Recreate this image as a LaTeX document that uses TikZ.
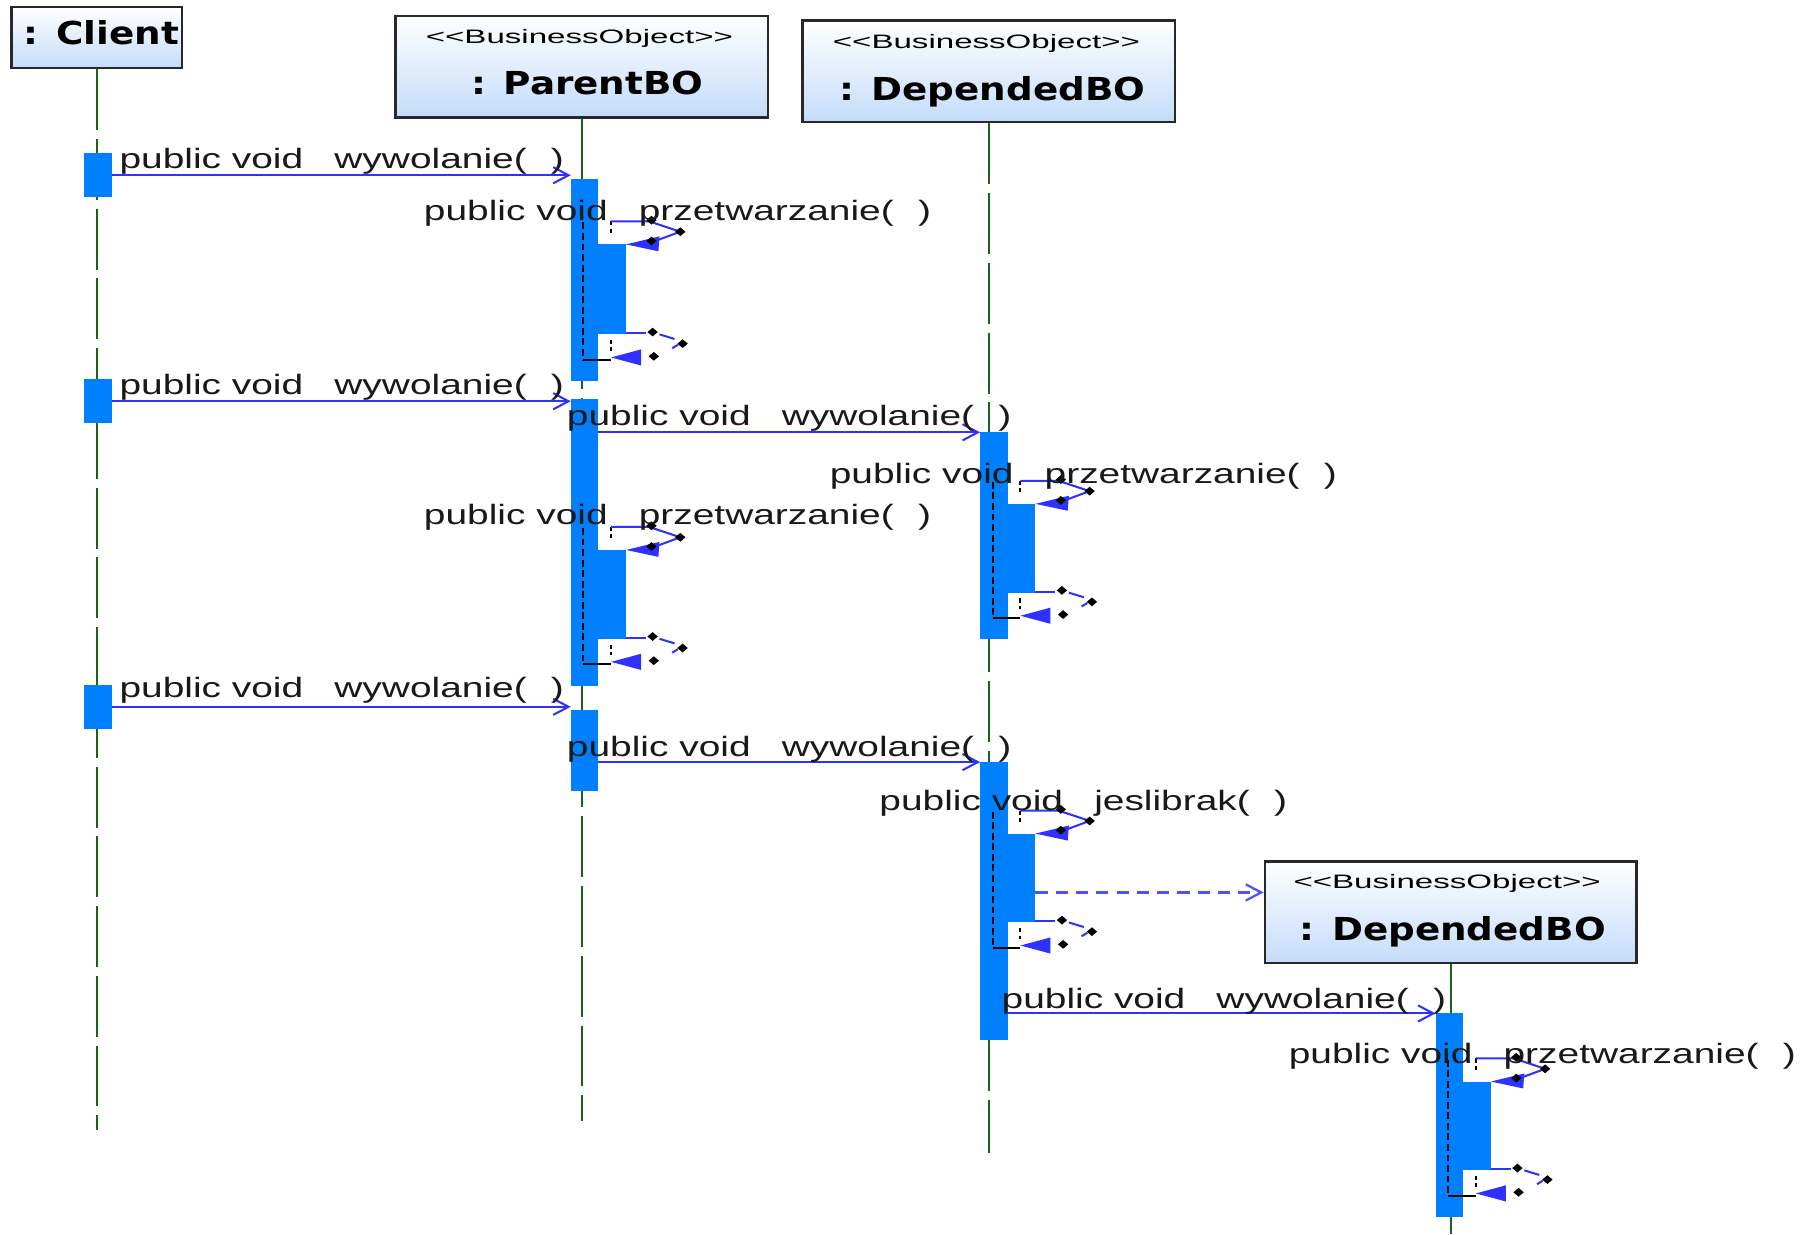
\documentclass[tikz,border=0pt]{standalone}
\usepackage{fontspec}
\usetikzlibrary{arrows.meta,calc}

\newfontfamily\msgfont{Liberation Sans}[FakeStretch=1.39]
\newfontfamily\stfont{Liberation Sans}[FakeStretch=1.7]
\newfontfamily\objfont{DejaVu Sans}[FakeStretch=1.18]

\definecolor{actblue}{RGB}{0,128,255}
\definecolor{msgblue}{RGB}{48,48,255}
\definecolor{hdrblue}{RGB}{196,220,250}
\definecolor{lifegreen}{RGB}{25,100,25}
\definecolor{framegray}{RGB}{40,40,40}

% operation call text: "public void  name( )"
\newcommand\pv[1]{public void\hspace{0.27cm}#1(\hspace{0.21cm})}
% small black marker of a self-call loop
\newcommand\mk[2]{\fill[black] ({#1-4.5},{#2}) -- ({#1},{#2-3.8}) -- ({#1+4.5},{#2}) -- ({#1},{#2+3.8}) -- cycle;}
% self-call loop around a nested activation bar (#1 = name of the nested bar)
\newcommand\selfcall[1]{%
  \begin{scope}[shift={(#1.north west)}]
    \draw[retline, dash pattern=on 1pt off 0.8pt] (11,-20) -- (11,-10);
    \draw[loopline] (11,-20) -- (44,-20) -- (71,-11) -- (52,-4);
    \fill[msgblue] (24,0) -- (53,-7) -- (52,6) -- cycle;
    \mk{46}{-21} \mk{71}{-11} \mk{46}{-3}
  \end{scope}
  \begin{scope}[shift={(#1.south west)}]
    \draw[retline] (-13,22) -- (11,22);
    \draw[retline, dash pattern=on 1pt off 0.8pt] (11,5) -- (11,14);
    \draw[loopline] (24,-1) -- (41,-1);
    \draw[loopline] (53,0) -- (66,4);
    \draw[loopline] (64,12) -- (69,9);
    \fill[msgblue] (11,20) -- (37,13) -- (37,27) -- cycle;
    \mk{47}{-2} \mk{73}{8} \mk{48}{19}
  \end{scope}
  \draw[retline, dash pattern=on 1.7pt off 0.9pt]
    ([shift={(-13,-19)}]#1.north west) -- ([shift={(-13,22)}]#1.south west);
}

\tikzset{
  lifeline/.style={draw=lifegreen, line width=0.5pt, dash pattern=on 15pt off 2.2pt},
  bar/.style={rectangle, fill=actblue, draw=none, inner sep=0pt, outer sep=0pt, minimum width=0.24cm},
  objbox/.style={rectangle, draw=framegray, line width=0.6pt, top color=white, bottom color=hdrblue, inner sep=0pt},
  stereo/.style={font=\stfont\fontsize{4.8}{6}\selectfont, inner sep=0pt, anchor=base},
  objname/.style={font=\objfont\bfseries\fontsize{7.8}{9}\selectfont, inner sep=0pt, anchor=base},
  msg/.style={draw=msgblue, line width=0.5pt, -{Straight Barb[length=3.8pt,width=4pt]}},
  create/.style={msg, draw=msgblue!85, line width=0.55pt, dash pattern=on 3pt off 2pt},
  msglabel/.style={font=\msgfont\fontsize{6.9}{8}\selectfont, text=black!90, inner sep=0pt, anchor=base west},
  retline/.style={draw=black, line width=0.5pt},
  loopline/.style={draw=msgblue, line width=0.5pt},
}

\begin{document}
\begin{tikzpicture}[x=0.01cm, y=-0.01cm]
\fill[white] (0,0) rectangle (1568,1071);
\useasboundingbox (0,0) rectangle (1568,1071);

% object heads
\node[objbox, minimum width=1.48cm, minimum height=0.53cm] (objC) at (84,32.5) {};
\node[objbox, minimum width=3.23cm, minimum height=0.88cm] (objP) at (504.5,58) {};
\node[objbox, minimum width=3.23cm, minimum height=0.88cm] (objD) at (857.5,62) {};
\node[objbox, minimum width=3.22cm, minimum height=0.88cm] (objE) at (1258,791) {};

\node[objname] (nmC) at ([shift={(4,34)}]objC.north) {: Client};
\node[stereo] (stP) at ([shift={(-2,25)}]objP.north) {<\kern0pt<BusinessObject>\kern0pt>};
\node[objname] (nmP) at ([shift={(5,69)}]objP.north) {: ParentBO};
\node[stereo] (stD) at ([shift={(-2,25)}]objD.north) {<\kern0pt<BusinessObject>\kern0pt>};
\node[objname] (nmD) at ([shift={(3,70)}]objD.north) {: DependedBO};
\node[stereo] (stE) at ([shift={(-3,25)}]objE.north) {<\kern0pt<BusinessObject>\kern0pt>};
\node[objname] (nmE) at ([shift={(2,70)}]objE.north) {: DependedBO};

% lifelines
\coordinate (endC) at (85,980);
\coordinate (endP) at (505,972);
\coordinate (endD) at (860,1000);
\coordinate (endE) at (1255,1071);
\draw[lifeline] (objC.south) -- (objC.south |- endC);
\draw[lifeline] (objP.south) -- (objP.south |- endP);
\draw[lifeline] (objD.south) -- (objD.south |- endD);
\draw[lifeline] (objE.south) -- (objE.south |- endE);

% activation bars
\node[bar, minimum height=0.38cm] (c1) at (85,152) {};
\node[bar, minimum height=0.38cm] (c2) at (85,348) {};
\node[bar, minimum height=0.38cm] (c3) at (85,613) {};
\node[bar, minimum height=1.75cm] (p1) at (507,242.5) {};
\node[bar, minimum height=2.49cm] (p2) at (507,470.5) {};
\node[bar, minimum height=0.70cm] (p3) at (507,651) {};
\node[bar, minimum height=0.78cm] (pn1) at (531,251) {};
\node[bar, minimum height=0.77cm] (pn2) at (531,515.5) {};
\node[bar, minimum height=1.79cm] (d1) at (862,464.5) {};
\node[bar, minimum height=2.41cm] (d2) at (862,781.5) {};
\node[bar, minimum height=0.77cm] (dn1) at (886,475.5) {};
\node[bar, minimum height=0.77cm] (dn2) at (886,761.5) {};
\node[bar, minimum height=1.76cm] (e1) at (1257,967) {};
\node[bar, minimum height=0.77cm] (en1) at (1281,976.5) {};

% messages
\draw[msg] (c1.east) -- (p1.west |- c1.east);
\draw[msg] (c2.east) -- (p2.west |- c2.east);
\draw[msg] (p2.east |- d1.north west) -- (d1.north west);
\draw[msg] (c3.east) -- (p3.west |- c3.east);
\draw[msg] (p3.east |- d2.north west) -- (d2.north west);
\draw[msg] (d2.east |- e1.north west) -- (e1.north west);
\coordinate (cr) at (0,774);
\draw[create] (dn2.east |- cr) -- (objE.west |- cr);

% self calls
\selfcall{pn1}
\selfcall{pn2}
\selfcall{dn1}
\selfcall{dn2}
\selfcall{en1}

% message texts
\node[msglabel] (l1) at (103,146) {\pv{wywolanie}};
\node[msglabel] (l2) at (103,342) {\pv{wywolanie}};
\node[msglabel] (l3) at (491,369) {\pv{wywolanie}};
\node[msglabel] (l4) at (103,605) {\pv{wywolanie}};
\node[msglabel] (l5) at (491,656) {\pv{wywolanie}};
\node[msglabel] (l6) at (868,875) {\pv{wywolanie}};
\node[msglabel] (s1) at (367,191) {\pv{przetwarzanie}};
\node[msglabel] (s2) at (367,455) {\pv{przetwarzanie}};
\node[msglabel] (s3) at (719,419) {\pv{przetwarzanie}};
\node[msglabel] (s4) at (762,703) {\pv{jeslibrak}};
\node[msglabel] (s5) at (1117,922) {\pv{przetwarzanie}};
\end{tikzpicture}
\end{document}
